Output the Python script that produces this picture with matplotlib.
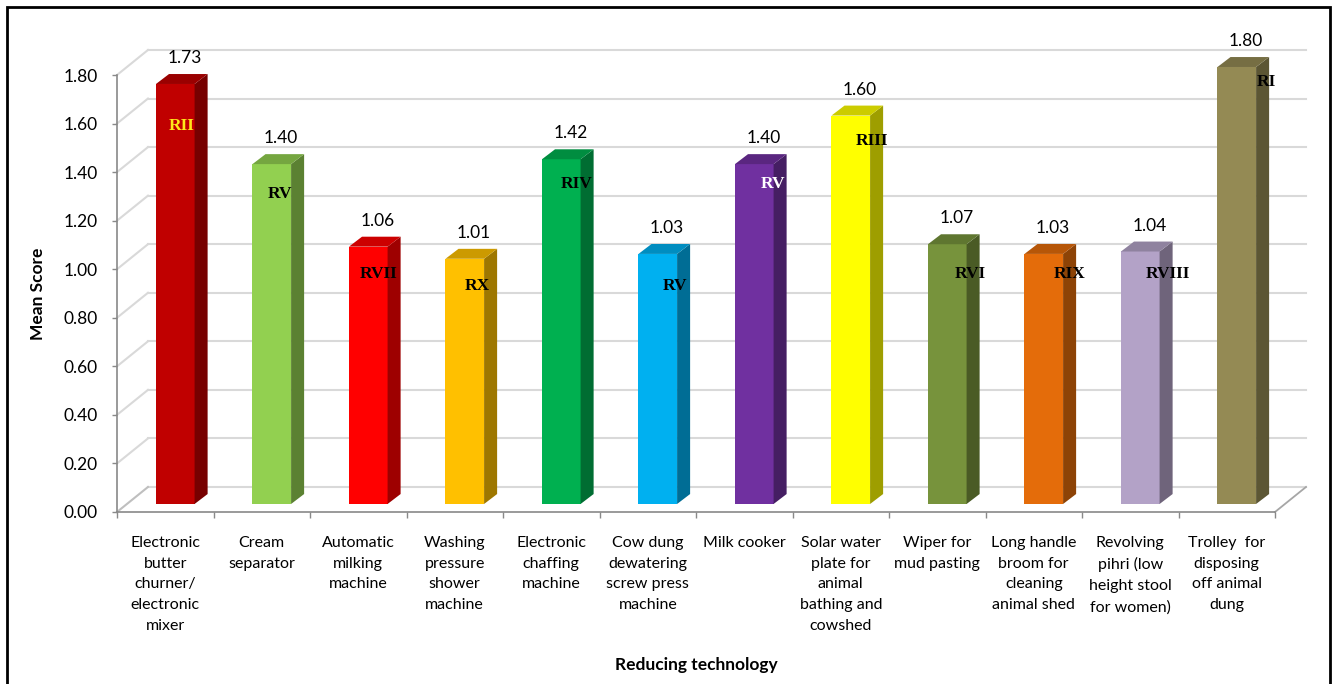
import numpy as np
import matplotlib.pyplot as plt
from matplotlib.colors import to_rgb
from matplotlib.patches import Rectangle

# Chart data
categories = [
    'Electronic\nbutter\nchurner/\nelectronic\nmixer',
    'Cream\nseparator',
    'Automatic\nmilking\nmachine',
    'Washing\npressure\nshower\nmachine',
    'Electronic\nchaffing\nmachine',
    'Cow dung\ndewatering\nscrew press\nmachine',
    'Milk cooker',
    'Solar water\nplate for\nanimal\nbathing and\ncowshed',
    'Wiper for\nmud pasting',
    'Long handle\nbroom for\ncleaning\nanimal shed',
    'Revolving\npihri (low\nheight stool\nfor women)',
    'Trolley  for\ndisposing\noff animal\ndung',
]
mean_scores = [1.73, 1.40, 1.06, 1.01, 1.42, 1.03, 1.40, 1.60, 1.07, 1.03, 1.04, 1.80]
ranks = ['RII', 'RV', 'RVII', 'RX', 'RIV', 'RV', 'RV', 'RIII', 'RVI', 'RIX', 'RVIII', 'RI']
y_ticks = [0.0, 0.2, 0.4, 0.6, 0.8, 1.0, 1.2, 1.4, 1.6, 1.8]

# where the rank text boxes sit (value units) and their colours
rank_y = [1.59, 1.31, 0.98, 0.93, 1.35, 0.93, 1.35, 1.53, 0.98, 0.98, 0.98, 1.77]
rank_colors = ['#FFE81A', 'black', 'black', 'black', 'black', 'black',
               'white', 'black', 'black', 'black', 'black', 'black']
bar_colors = ['#C00000', '#92D050', '#FF0000', '#FFC000', '#00B050', '#00B0F0',
              '#7030A0', '#FFFF00', '#77933C', '#E46C0A', '#B3A2C7', '#948A54']

# pseudo 3D geometry (data units)
wall_dx, wall_dy = 0.321, 0.103
shift_dx, shift_dy = 0.104, 0.033
bar_w = 0.40
depth_dx, depth_dy = 0.135, 0.041

sans = ['Lato', 'DejaVu Sans']
plt.rcParams['font.family'] = sans

W, H = 1334, 684
fig = plt.figure(figsize=(W / 100, H / 100), dpi=100)
ax = fig.add_axes([117 / W, (H - 512) / H, 1158 / W, 437 / H])
ax.set_xlim(-0.5, 11.5)
ax.set_ylim(0, 1.8)
for s in ax.spines.values():
    s.set_visible(False)

grid_c = '#D9D9D9'
axis_c = '#898989'
n = len(mean_scores)

# back wall gridlines + side wall diagonals
for v in y_ticks:
    ax.plot([-0.5 + wall_dx, n - 0.5 + wall_dx], [v + wall_dy, v + wall_dy],
            color=grid_c, lw=1.5, clip_on=False, zorder=1)
    ax.plot([-0.5, -0.5 + wall_dx], [v, v + wall_dy],
            color=grid_c if v > 0 else '#BFBFBF', lw=1.5, clip_on=False, zorder=1)
# floor
ax.plot([n - 0.5, n - 0.5 + wall_dx], [0, wall_dy], color='#A6A6A6', lw=1.3,
        clip_on=False, zorder=1)
ax.plot([-0.5, n - 0.5], [0, 0], color=axis_c, lw=1.2, clip_on=False, zorder=2)
ax.plot([-0.5, -0.5], [0, 1.8], color=axis_c, lw=1.2, clip_on=False, zorder=2)


def shade(c, f):
    return tuple(np.array(to_rgb(c)) * f)


x = np.arange(n)
front_x = x + shift_dx
ax.bar(front_x, mean_scores, width=bar_w, bottom=shift_dy, color=bar_colors,
       zorder=3, clip_on=False)
for i, v in enumerate(mean_scores):
    xl = front_x[i] - bar_w / 2
    xr = front_x[i] + bar_w / 2
    y0 = shift_dy
    y1 = shift_dy + v
    ax.fill([xr, xr + depth_dx, xr + depth_dx, xr],
            [y0, y0 + depth_dy, y1 + depth_dy, y1],
            color=shade(bar_colors[i], 0.62), lw=0, zorder=3, clip_on=False)
    ax.fill([xl, xr, xr + depth_dx, xl + depth_dx],
            [y1, y1, y1 + depth_dy, y1 + depth_dy],
            color=shade(bar_colors[i], 0.80), lw=0, zorder=3, clip_on=False)
    ax.text(x[i] + 0.2, v + 0.14, f'{v:.2f}', ha='center', va='center',
            fontsize=12.5, color='black', zorder=5, clip_on=False)
    ax.text(x[i] + 0.17 + 0.022 * i, rank_y[i], ranks[i], ha='center', va='center',
            fontsize=12.5, fontweight='bold', family=['Liberation Serif'],
            color=rank_colors[i], zorder=5)

# ticks
ax.set_yticks(y_ticks, [f'{v:.2f}' for v in y_ticks], fontsize=12.5)
ax.tick_params(axis='y', length=3.6, width=1, color=axis_c, pad=10)
ax.set_xticks(x, categories, fontsize=11.5, linespacing=1.63)
ax.tick_params(axis='x', which='major', length=0, pad=17)
ax.set_xticks(np.arange(-0.5, n, 1.0), minor=True)
ax.tick_params(axis='x', which='minor', length=4.3, width=1, color=axis_c)

fig.text(38 / W, 1 - 294 / H, 'Mean Score', rotation=90, ha='center', va='center',
         fontsize=12.5, fontweight='bold')
fig.text(696 / W, 1 - 665 / H, 'Reducing technology', ha='center', va='center',
         fontsize=12.5, fontweight='bold')

# outer frame
fig.add_artist(Rectangle((7 / W, -0.02), (1330 - 7) / W, 1 - 7 / H + 0.02,
                         transform=fig.transFigure, fill=False, lw=2, ec='black'))

fig.savefig('out.png', dpi=100)
